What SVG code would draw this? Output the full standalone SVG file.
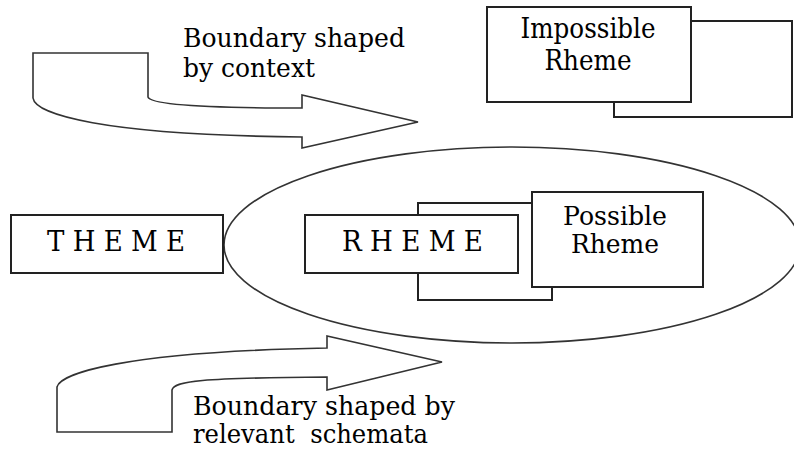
<svg xmlns="http://www.w3.org/2000/svg" width="794" height="450" viewBox="0 0 794 450">
<style>
.bx{fill:#fff;stroke:#222;stroke-width:2}
.ar{fill:#fff;stroke:#333;stroke-width:1.6;stroke-linejoin:miter}
.el{fill:none;stroke:#333;stroke-width:1.6}
.c{text-anchor:middle}
</style>
<rect width="794" height="450" fill="#fff"/>
<g id="connectors">
<path id="arrow-context" class="ar" d="M33,53 L148,53 L148,97 C150,104 200,108 302,108 L302,95 L418,122 L302,148 L302,137 C100,135 35,114 33,98 Z"/>
<path id="arrow-schemata" class="ar" d="M57,432 L57,387 C60,374 120,352 327,348 L327,336 L442,362 L327,390 L327,377 C200,378 174,381 172,390 L172,432 Z"/>
</g>
<g id="boundary-ellipse">
<ellipse class="el" cx="512" cy="245" rx="288" ry="98"/>
</g>
<g font-family="DejaVu Serif, Liberation Serif, serif" font-size="28" fill="#000">
<g id="label-context" font-size="26">
<text x="183" y="47" textLength="222" lengthAdjust="spacingAndGlyphs">Boundary shaped</text>
<text x="183" y="77" textLength="132" lengthAdjust="spacingAndGlyphs">by context</text>
</g>
<g id="label-schemata" font-size="26">
<text x="193" y="415" textLength="262" lengthAdjust="spacingAndGlyphs">Boundary shaped by</text>
<text x="193" y="443" style="white-space:pre" textLength="235" lengthAdjust="spacingAndGlyphs">relevant  schemata</text>
</g>
<g id="impossible-rheme">
<rect class="bx" x="614" y="21" width="178" height="96"/>
<rect class="bx" x="487" y="7" width="204" height="95"/>
<text class="c" x="588" y="38" textLength="135" lengthAdjust="spacingAndGlyphs">Impossible</text>
<text class="c" x="588" y="70" textLength="87" lengthAdjust="spacingAndGlyphs">Rheme</text>
</g>
<g id="theme">
<rect class="bx" x="11" y="215" width="212" height="58"/>
<text x="47" y="251" textLength="138" lengthAdjust="spacingAndGlyphs">T H E M E</text>
</g>
<g id="rheme">
<rect class="bx" x="418" y="203" width="134" height="97"/>
<rect class="bx" x="305" y="215" width="213" height="58"/>
<text x="342" y="251" textLength="141" lengthAdjust="spacingAndGlyphs">R H E M E</text>
</g>
<g id="possible-rheme" font-size="26">
<rect class="bx" x="532" y="192" width="171" height="95"/>
<text class="c" x="615" y="225" textLength="104" lengthAdjust="spacingAndGlyphs">Possible</text>
<text class="c" x="615" y="253" textLength="88" lengthAdjust="spacingAndGlyphs">Rheme</text>
</g>
</g>
</svg>
